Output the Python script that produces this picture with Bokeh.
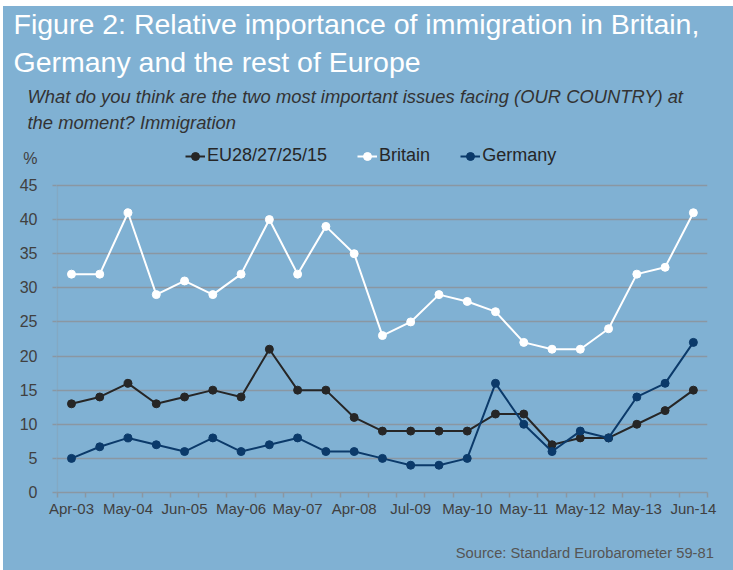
from bokeh.plotting import figure
from bokeh.models import (ColumnDataSource, FixedTicker, Legend, LegendItem, Spacer, Title,
                          BoxAnnotation, LinearAxis)
from bokeh.layouts import column, row
from bokeh.embed import file_html
from bokeh.resources import INLINE

# ---- data ----
n_periods = 23
x_idx = list(range(n_periods))
tick_labels = ["Apr-03", "May-04", "Jun-05", "May-06", "May-07", "Apr-08",
               "Jul-09", "May-10", "May-11", "May-12", "May-13", "Jun-14"]
y_ticks = [0, 5, 10, 15, 20, 25, 30, 35, 40, 45]
eu = [13, 14, 16, 13, 14, 15, 14, 21, 15, 15, 11, 9, 9, 9, 9, 11.5, 11.5, 7, 8, 8, 10, 12, 15]
britain = [32, 32, 41, 29, 31, 29, 32, 40, 32, 39, 35, 23, 25, 29, 28, 26.5, 22, 21, 21, 24, 32, 33, 41]
germany = [5, 6.7, 8, 7, 6, 8, 6, 7, 8, 6, 6, 5, 4, 4, 5, 16, 10, 6, 9, 8, 14, 16, 22]
series_names = ["EU28/27/25/15", "Britain", "Germany"]
series_cols = ["eu", "britain", "germany"]
series_colors = ["#262626", "#FFFFFF", "#0B3A6A"]
unit_label = "%"
unit_pos = 49.0      # level of the unit label above the top tick
source_text = "Source: Standard Eurobarometer 59-81"
source_pos = 18.16   # horizontal centre of the source note, in period units

BG = "#80B1D3"
GRID = "#8A97A2"
TXT = "#404040"
FONT = "Liberation Sans"

src = ColumnDataSource(dict(x=x_idx, eu=eu, britain=britain, germany=germany))

x_start = -0.53
p = figure(width=730, height=564, output_backend="svg", toolbar_location=None,
           x_range=(x_start, n_periods - 0.5), y_range=(0, 51),
           min_border_left=53, min_border_right=26, min_border_top=138, min_border_bottom=78)
p.background_fill_color = BG
p.border_fill_color = BG
p.outline_line_color = None
p.styles = {"background-color": BG}

# horizontal grid only at value ticks
p.xgrid.visible = False
p.ygrid.ticker = FixedTicker(ticks=y_ticks)
p.ygrid.grid_line_color = GRID
p.ygrid.grid_line_width = 1.5

# vertical axis line from the lowest to the highest value tick
p.add_layout(BoxAnnotation(left=-0.5, right=-0.5, bottom=y_ticks[0], top=y_ticks[-1],
                           fill_alpha=0, line_color=GRID, line_width=1.5, level="underlay"))

# y axis: numbers plus the unit label on top
p.yaxis.ticker = FixedTicker(ticks=y_ticks + [unit_pos], minor_ticks=y_ticks)
p.yaxis.major_label_overrides = {unit_pos: unit_label}
p.yaxis.axis_line_color = None
p.yaxis.major_tick_line_color = None
p.yaxis.major_tick_out = 0
p.yaxis.major_tick_in = 0
p.yaxis.minor_tick_line_color = GRID
p.yaxis.minor_tick_line_width = 1.5
p.yaxis.minor_tick_out = 4
p.yaxis.minor_tick_in = 0
p.yaxis.major_label_text_font = FONT
p.yaxis.major_label_text_font_size = "16px"
p.yaxis.major_label_text_color = TXT
p.yaxis.major_label_standoff = 15

# x axis: labels every other period, ticks at period boundaries
major = x_idx[::2]
xa = p.xaxis[0]
xa.ticker = FixedTicker(ticks=major, minor_ticks=[i - 0.5 for i in range(n_periods + 1)])
xa.major_label_overrides = {m: lab for m, lab in zip(major, tick_labels)}
xa.axis_line_color = GRID
xa.axis_line_width = 1.5
xa.major_tick_line_color = None
xa.major_tick_out = 0
xa.major_tick_in = 0
xa.minor_tick_line_color = GRID
xa.minor_tick_line_width = 1.5
xa.minor_tick_out = 5
xa.minor_tick_in = 0
xa.major_label_text_font = FONT
xa.major_label_text_font_size = "15px"
xa.major_label_text_color = TXT
xa.major_label_standoff = 2

# source note as a second, bare axis below the first one
note_axis = LinearAxis(ticker=FixedTicker(ticks=[source_pos]),
                       major_label_overrides={source_pos: source_text},
                       axis_line_color=None, major_tick_line_color=None,
                       minor_tick_line_color=None, major_tick_out=0, major_tick_in=0,
                       minor_tick_out=0, minor_tick_in=0,
                       major_label_standoff=25, major_label_text_font=FONT,
                       major_label_text_font_size="14.7px", major_label_text_color="#555555")
p.add_layout(note_axis, "below")

items = []
for name, col, color in zip(series_names, series_cols, series_colors):
    l = p.line("x", col, source=src, line_color=color, line_width=2)
    s = p.scatter("x", col, source=src, size=8, fill_color=color, line_color=color)
    items.append(LegendItem(label=name, renderers=[l, s]))
legend = Legend(items=items, orientation="horizontal", location=(129, 326),
                glyph_width=20, glyph_height=20, label_height=20, label_standoff=2,
                spacing=30, padding=0, margin=0,
                background_fill_alpha=0, border_line_color=None,
                label_text_font=FONT, label_text_font_size="18px", label_text_color="#262626")
p.add_layout(legend)

def title_row(text, size, color, style, offset, standoff):
    p.add_layout(Title(text=text, align="left", offset=offset, standoff=standoff,
                       text_font=FONT, text_font_size=size, text_color=color,
                       text_font_style=style), "above")

# above rows: first added is closest to the chart
title_row("the moment? Immigration", "18.4px", "#333333", "italic", -29, 24)
title_row("What do you think are the two most important issues facing (OUR COUNTRY) at",
          "18.4px", "#333333", "italic", -29, -18)
title_row("Germany and the rest of Europe", "28.5px", "white", "normal", -43, 30)
title_row("Figure 2: Relative importance of immigration in Britain,", "28.5px", "white", "normal", -43, -22)

layout = row(Spacer(width=3), column(Spacer(height=6), p))
open("out.html", "w").write(file_html(layout, INLINE))
